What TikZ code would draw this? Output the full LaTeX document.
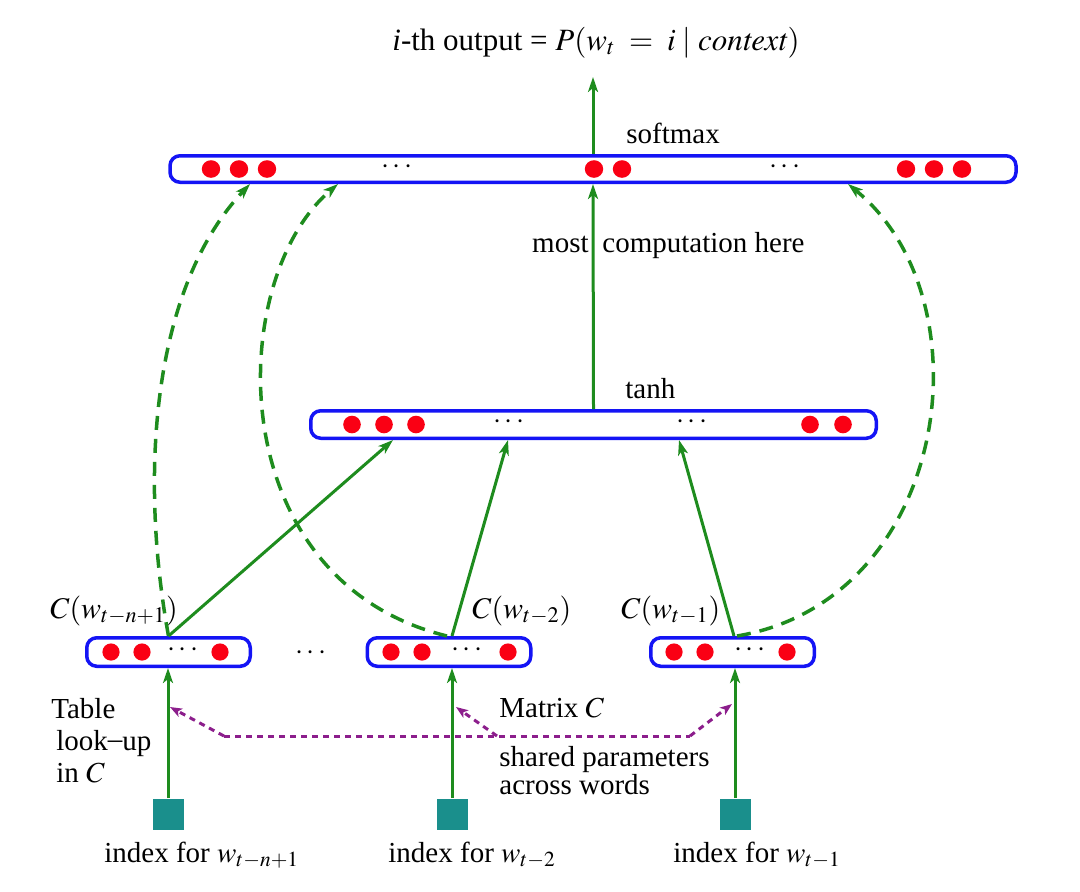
\documentclass[tikz,border=0pt]{standalone}
\usepackage{mathptmx}
\usepackage[no-math]{fontspec}
\setmainfont{Liberation Serif}
\usetikzlibrary{arrows.meta}
\definecolor{barblue}{RGB}{20,20,245}
\definecolor{dotred}{RGB}{250,0,20}
\definecolor{arrgreen}{RGB}{30,140,30}
\definecolor{purp}{RGB}{140,30,140}
\definecolor{sqteal}{RGB}{26,143,140}
\begin{document}
\begin{tikzpicture}[x=0.5pt,y=-0.5pt,
  every node/.style={font=\rmfamily\fontsize{14.5}{17}\selectfont, inner sep=0pt},
  bar/.style={draw=barblue, line width=1.75pt, rounded corners=5pt, fill=white},
  sqbox/.style={fill=sqteal, minimum size=15.5pt},
  garrow/.style={draw=arrgreen, line width=1.5pt, -{Stealth[length=7.5pt,width=5pt,inset=2pt]}},
  gdash/.style={draw=arrgreen, line width=1.75pt, dash pattern=on 7pt off 4.5pt, -{Stealth[length=7.5pt,width=5pt,inset=2pt]}},
  pdot/.style={draw=purp, line width=1.5pt, dash pattern=on 3pt off 2.5pt},
  ptip/.style={-{Stealth[length=6pt,width=4.5pt,inset=1.5pt]}},
  rdot/.style={fill=dotred},
  dd/.style={font=\fontsize{14.5}{17}\selectfont},
  lab/.style={font=\rmfamily\fontsize{15}{18}\selectfont},
  ttl/.style={font=\rmfamily\fontsize{15.5}{18}\selectfont}
]
\useasboundingbox (0,0) rectangle (1080,891);

% ---- bars
\node[bar, minimum width=423pt, minimum height=13.25pt] (soft) at (593,169) {};
\node[bar, minimum width=282.75pt, minimum height=13.75pt] (tanh) at (593.5,424.5) {};
\node[bar, minimum width=81.75pt, minimum height=14.25pt] (b1) at (168.5,652) {};
\node[bar, minimum width=81.75pt, minimum height=14.25pt] (b2) at (449,652) {};
\node[bar, minimum width=81.75pt, minimum height=14.25pt] (b3) at (732.5,652) {};

% ---- dots softmax
\foreach \x in {211,239,267,594,622,906,934,962}{\fill[rdot] (\x,169) ellipse [x radius=4.6pt, y radius=4.4pt];}
\node[dd] (sd1) at (397,167) {$\cdots$};
\node[dd] (sd2) at (785,167) {$\cdots$};
% ---- dots tanh
\foreach \x in {352,384,416,810,843}{\fill[rdot] (\x,424.5) ellipse [x radius=4.4pt, y radius=4.4pt];}
\node[dd] (td1) at (509,422) {$\cdots$};
\node[dd] (td2) at (692,422) {$\cdots$};
% ---- dots bottom boxes
\foreach \x in {111,142,220,391,422,508,674,705,787}{\fill[rdot] (\x,652) circle [radius=4.3pt];}
\node[dd] (bd1) at (183,650) {$\cdots$};
\node[dd] (bd2) at (467,650) {$\cdots$};
\node[dd] (bd3) at (750,650) {$\cdots$};
\node[dd] (mid) at (311,653) {$\cdots$};

% ---- squares
\node[sqbox] (s1) at (168,814) {};
\node[sqbox] (s2) at (452,814) {};
\node[sqbox] (s3) at (735,814) {};

% ---- texts
\node[anchor=base, ttl] (title) at (596,50) {\textit{i}-th output = $P(w_t \;=\; i\;|\;\mathit{context})$};
\coordinate (outtip) at (593,77);
\node[anchor=base west] (smlab) at (626,143) {softmax};
\node[anchor=base west] (thlab) at (625,398) {tanh};
\node[anchor=base east] (most) at (589,252) {most};
\node[anchor=base west] (comp) at (602,252) {computation here};
\node[anchor=base west, lab] (c1) at (50,618) {$C(w_{t-n+1})$};
\node[anchor=base west, lab] (c2) at (472,618) {$C(w_{t-2})$};
\node[anchor=base west, lab] (c3) at (621,618) {$C(w_{t-1})$};
\node[anchor=base west] (tab1) at (51,718) {Table};
\node[anchor=base west] (tab2) at (56,750) {look\raisebox{0.15ex}{--}up};
\node[anchor=base west] (tab3) at (56,782) {in $C$};
\node[anchor=base west] (mat) at (499,717) {Matrix $C$};
\node[anchor=base west] (sh1) at (499,766) {shared parameters};
\node[anchor=base west] (sh2) at (499,794) {across words};
\node[anchor=base west] (i1) at (104,862) {index for $w_{t-n+1}$};
\node[anchor=base west] (i2) at (388,862) {index for $w_{t-2}$};
\node[anchor=base west] (i3) at (673,862) {index for $w_{t-1}$};

% ---- solid arrows
\draw[garrow] (soft.north) -- (outtip);
\draw[garrow] (tanh.north) -- (soft.south);
\draw[garrow] (b1.north) -- ([xshift=-100.25pt]tanh.south);
\draw[garrow] ([xshift=1.5pt]b2.north) -- ([xshift=-42.75pt]tanh.south);
\draw[garrow] ([xshift=0.75pt]b3.north) -- ([xshift=42.75pt]tanh.south);
\draw[garrow] (s1.north) -- (s1.north |- b1.south);
\draw[garrow] (s2.north) -- (s2.north |- b2.south);
\draw[garrow] (s3.north) -- (s3.north |- b3.south);

% ---- dashed curves
\draw[gdash] (b1.north) .. controls (140,480) and (150,290) .. ([xshift=-171.5pt]soft.south);
\draw[gdash] ([xshift=-1pt]b2.north) .. controls (220,580) and (225,280) .. ([xshift=-127.5pt]soft.south);
\draw[gdash] ([xshift=2.25pt]b3.north) .. controls (950,600) and (990,300) .. ([xshift=127.5pt]soft.south);

% ---- purple shared parameters
\coordinate (pl) at (170,707);
\coordinate (pm) at (456,707);
\coordinate (pr) at (732,704);
\coordinate (pc1) at (224,736);
\coordinate (pc2) at (497,736);
\coordinate (pc3) at (690,736);
\draw[pdot] (pc1) -- (pc3);
\draw[pdot, ptip] (pc1) -- (pl);
\draw[pdot, ptip] (pc2) -- (pm);
\draw[pdot, ptip] (pc3) -- (pr);
\end{tikzpicture}
\end{document}
